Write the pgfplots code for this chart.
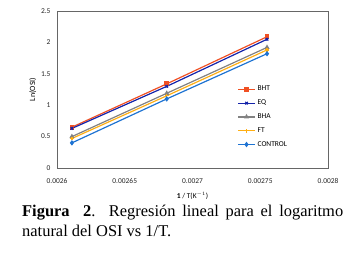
\documentclass[border=0pt]{standalone}
\usepackage{pgfplots}
\pgfplotsset{compat=1.18}
\usepackage{fontspec}
\setmainfont{Liberation Serif}
\newfontfamily\carlito{Carlito}
\definecolor{cBHT}{RGB}{240,80,35}
\definecolor{cEQ}{RGB}{20,35,170}
\definecolor{cBHA}{RGB}{130,130,130}
\definecolor{cFT}{RGB}{255,175,20}
\definecolor{cCON}{RGB}{30,115,210}
\begin{document}
\begin{tikzpicture}[x=1bp,y=1bp]
\path (0,0) rectangle (355,259);
\begin{axis}[
  at={(57bp,91bp)}, anchor=south west,
  scale only axis, width=271bp, height=157bp,
  xmin=0.0026, xmax=0.0028, ymin=0, ymax=2.5,
  scaled x ticks=false,
  xtick={0.0026,0.00265,0.0027,0.00275,0.0028},
  xticklabels={0.0026,0.00265,0.0027,0.00275,0.0028},
  ytick={0,0.5,1,1.5,2,2.5},
  yticklabels={0,0.5,1,1.5,2,2.5},
  major tick length=0pt,
  axis line style={draw=black!60},
  ticklabel style={font=\carlito\fontsize{7.5}{9}\selectfont, text=black!85},
  xticklabel style={yshift=-7bp},
  yticklabel style={xshift=-3bp},
  xlabel={\carlito\fontsize{7.5}{9}\selectfont\textbf{1} / T(K$^{-1}$)},
  ylabel={\carlito\fontsize{8}{9}\selectfont Ln(OSI)},
  xlabel style={yshift=-2bp},
  ylabel style={yshift=-2bp},
  legend style={at={(rel axis cs:0.665,0.535)}, anchor=north west, draw=none, fill=none,
    font=\carlito\fontsize{7.5}{9}\selectfont, row sep=3.5bp, inner sep=0pt},
  legend cell align=left,
  every axis plot/.append style={line width=1.2pt, mark size=1.8pt},
]
\addplot[cBHT, mark=square*] coordinates {(0.002611,0.65) (0.002681,1.34) (0.002755,2.09)};
\addlegendentry{BHT}
\addplot[cEQ, mark=x] coordinates {(0.002611,0.63) (0.002681,1.30) (0.002755,2.05)};
\addlegendentry{EQ}
\addplot[cBHA, mark=triangle*] coordinates {(0.002611,0.50) (0.002681,1.19) (0.002755,1.92)};
\addlegendentry{BHA}
\addplot[cFT, mark=+] coordinates {(0.002611,0.47) (0.002681,1.15) (0.002755,1.88)};
\addlegendentry{FT}
\addplot[cCON, mark=diamond*] coordinates {(0.002611,0.40) (0.002681,1.10) (0.002755,1.82)};
\addlegendentry{CONTROL}
\end{axis}
\node[anchor=north west, inner sep=0pt, text width=321bp, align=justify,
  font=\fontsize{16.5}{19.5}\selectfont] at (22,54)
  {\textbf{Figura\ \ 2}. Regresión lineal para el logaritmo\linebreak natural del OSI vs 1/T.};
\end{tikzpicture}
\end{document}
